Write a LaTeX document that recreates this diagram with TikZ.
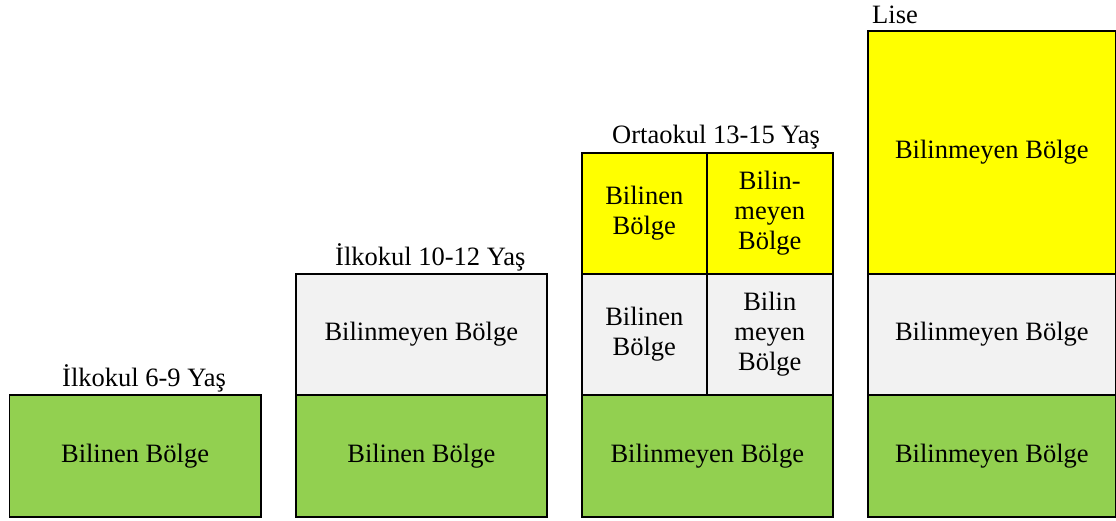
\documentclass[tikz,border=0pt]{standalone}
\usepackage{fontspec}
\setmainfont{Liberation Serif}
\definecolor{bilgreen}{HTML}{92D050}
\definecolor{bilyellow}{HTML}{FFFF00}
\definecolor{bilgray}{HTML}{F2F2F2}
\tikzset{
	cell/.style={draw, line width=1.6pt, anchor=north west, inner sep=0pt, align=center, font=\fontsize{26.5}{30}\selectfont},
	stage/.style={anchor=base west, inner sep=0pt, font=\fontsize{26.5}{30}\selectfont}
}

\begin{document}
\begin{tikzpicture}[x=1pt, y=-1pt]
		\useasboundingbox (0,0) rectangle (1116,520);
		% column 1
		\node[cell, fill=bilgreen, minimum width=251.5, minimum height=122] (g1) at (8.5,394) {Bilinen Bölge};
		\node[stage] (l1) at (62,386) {İlkokul 6-9 Yaş};
		% column 2
		\node[cell, fill=bilgray, minimum width=251, minimum height=121] (w2) at (295,273) {Bilinmeyen Bölge};
		\node[cell, fill=bilgreen, minimum width=251, minimum height=122] (g2) at (295,394) {Bilinen Bölge};
		\node[stage] (l2) at (335,265) {İlkokul 10-12 Yaş};
		% column 3
		\node[cell, fill=bilyellow, minimum width=125, minimum height=121] (y3a) at (581,152) {Bilinen\\Bölge};
		\node[cell, fill=bilyellow, minimum width=126, minimum height=121] (y3b) at (706,152) {Bilin-\\meyen\\Bölge};
		\node[cell, fill=bilgray, minimum width=125, minimum height=121] (w3a) at (581,273) {Bilinen\\Bölge};
		\node[cell, fill=bilgray, minimum width=126, minimum height=121] (w3b) at (706,273) {Bilin\\meyen\\Bölge};
		\node[cell, fill=bilgreen, minimum width=251, minimum height=122] (g3) at (581,394) {Bilinmeyen Bölge};
		\node[stage] (l3) at (612,143) {Ortaokul 13-15 Yaş};
		% column 4
		\node[cell, fill=bilyellow, minimum width=248, minimum height=243] (y4) at (867,30) {Bilinmeyen Bölge};
		\node[cell, fill=bilgray, minimum width=248, minimum height=121] (w4) at (867,273) {Bilinmeyen Bölge};
		\node[cell, fill=bilgreen, minimum width=248, minimum height=122] (g4) at (867,394) {Bilinmeyen Bölge};
		\node[stage] (l4) at (872,23) {Lise};
	\end{tikzpicture}
\end{document}
